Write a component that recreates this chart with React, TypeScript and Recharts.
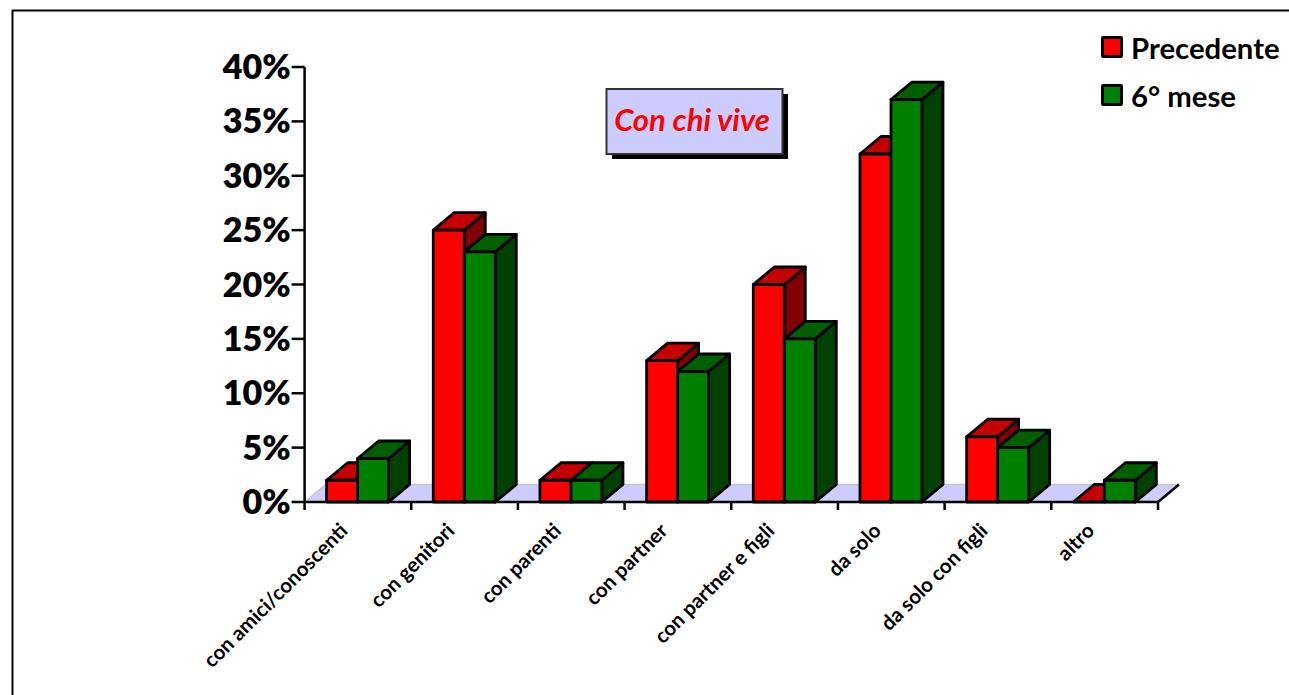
import React from "react";
import { BarChart, Bar, XAxis, YAxis, Legend, usePlotArea } from "recharts";

const categories = [
  "con amici/conoscenti",
  "con genitori",
  "con parenti",
  "con partner",
  "con partner e figli",
  "da solo",
  "da solo con figli",
  "altro",
];
const precedente = [2, 25, 2, 13, 20, 32, 6, 0];
const sestoMese = [4, 23, 2, 12, 15, 37, 5, 2];
const yTicks = [0, 5, 10, 15, 20, 25, 30, 35, 40];

const rows = categories.map((name, i) => ({
  name,
  Precedente: precedente[i],
  "6° mese": sestoMese[i],
}));

const FONT = "Lato, Carlito, 'Open Sans', sans-serif";
const DEPTH_X = 21;
const DEPTH_Y = 17.5;
const BAND = 854 / categories.length;

const redFaces = { front: "#ff0000", top: "#c40000", side: "#800000" };
const greenFaces = { front: "#008000", top: "#006000", side: "#004000" };

function Box3D(props: any) {
  const { x, y, width, height, faces } = props;
  const x2 = x + width;
  const bottom = y + height;
  const common = { stroke: "#000", strokeWidth: 2.8, strokeLinejoin: "round" as const };
  return (
    <g>
      <polygon
        points={`${x2},${y} ${x2 + DEPTH_X},${y - DEPTH_Y} ${x2 + DEPTH_X},${bottom - DEPTH_Y} ${x2},${bottom}`}
        fill={faces.side}
        {...common}
      />
      <polygon
        points={`${x},${y} ${x + DEPTH_X},${y - DEPTH_Y} ${x2 + DEPTH_X},${y - DEPTH_Y} ${x2},${y}`}
        fill={faces.top}
        {...common}
      />
      <rect x={x} y={y} width={width} height={height} fill={faces.front} {...common} />
    </g>
  );
}

// Chart floor: a receding plane behind the bars, with its right edge outlined.
function Floor() {
  const area = usePlotArea();
  if (!area) return null;
  const left = area.x;
  const right = area.x + area.width;
  const base = area.y + area.height;
  return (
    <g>
      <polygon
        points={`${left},${base} ${left + DEPTH_X},${base - DEPTH_Y} ${right + DEPTH_X},${base - DEPTH_Y} ${right},${base}`}
        fill="#ccccff"
      />
      <polyline
        points={`${left},${base} ${left + DEPTH_X},${base - DEPTH_Y} ${right + DEPTH_X},${base - DEPTH_Y}`}
        fill="none"
        stroke="#c8c8c8"
        strokeWidth={1.5}
      />
      <line x1={right} y1={base} x2={right + DEPTH_X} y2={base - DEPTH_Y} stroke="#000" strokeWidth={2.5} />
    </g>
  );
}

function Frame() {
  return (
    <g stroke="#000" strokeWidth={2}>
      <line x1={12} y1={10.5} x2={1289} y2={10.5} />
      <line x1={12.5} y1={10} x2={12.5} y2={695} />
    </g>
  );
}

function TitleBox() {
  return (
    <g>
      <rect x={612} y={94} width={176} height={65} fill="#000" />
      <rect x={606.5} y={89} width={176} height={65} fill="#ccccff" stroke="#333" strokeWidth={2} />
      <text
        x={692}
        y={131}
        textAnchor="middle"
        fontFamily={FONT}
        fontSize={31}
        fontWeight={700}
        fontStyle="italic"
        fill="#ff0000"
      >
        Con chi vive
      </text>
    </g>
  );
}

// Tick marks sit on category boundaries, so each tick draws its own mark and label.
function CategoryTick(props: any) {
  const { x, y, payload, index } = props;
  const edge = x - BAND / 2;
  const labelX = x - 9;
  const labelY = y + 22;
  return (
    <g>
      <line x1={edge} y1={y - 8} x2={edge} y2={y} stroke="#000" strokeWidth={2.5} />
      {index === categories.length - 1 && (
        <line x1={x + BAND / 2} y1={y - 8} x2={x + BAND / 2} y2={y} stroke="#000" strokeWidth={2.5} />
      )}
      <text
        x={labelX}
        y={labelY}
        textAnchor="end"
        transform={`rotate(-45 ${labelX} ${labelY})`}
        fontFamily={FONT}
        fontSize={20.5}
        fontWeight={700}
        fill="#000"
      >
        {payload.value}
      </text>
    </g>
  );
}

function LegendBlock({ payload }: any) {
  return (
    <div style={{ width: 188, fontFamily: FONT, fontWeight: 700, fontSize: 29.3, color: "#000", whiteSpace: "nowrap" }}>
      {(payload || []).map((entry: any) => (
        <div key={entry.value} style={{ display: "flex", alignItems: "center", height: 48 }}>
          <span
            style={{
              flex: "0 0 auto",
              boxSizing: "border-box",
              width: 22,
              height: 22,
              background: entry.color,
              border: "3px solid #000",
              borderRadius: 2,
              marginRight: 8,
              display: "inline-block",
            }}
          />
          <span>{entry.value}</span>
        </div>
      ))}
    </div>
  );
}

export default function App() {
  return (
    <div style={{ position: "absolute", left: 0, top: 0, width: 1289, height: 695, background: "#fff" }}>
      <BarChart
        width={1289}
        height={695}
        data={rows}
        margin={{ top: 67, right: 131, bottom: 93, left: 0 }}
        barSize={31}
        barGap={0}
      >
        <Frame />
        <Floor />
        <XAxis
          dataKey="name"
          interval={0}
          height={100}
          axisLine={{ stroke: "#000", strokeWidth: 2.5 }}
          tickLine={false}
          tick={<CategoryTick />}
          tickMargin={0}
          tickSize={8}
        />
        <YAxis
          width={304.6}
          domain={[0, 40]}
          ticks={yTicks}
          interval={0}
          axisLine={{ stroke: "#000", strokeWidth: 2.5 }}
          tickLine={{ stroke: "#000", strokeWidth: 2.5 }}
          tickSize={13}
          tickMargin={1}
          tickFormatter={(v: number) => `${v}%`}
          tick={{ fontFamily: FONT, fontSize: 34, fontWeight: 800, fill: "#000" }}
        />
        <Legend
          layout="vertical"
          align="right"
          verticalAlign="top"
          itemSorter={null}
          content={<LegendBlock />}
          wrapperStyle={{ left: 1101, top: 23, width: 0, overflow: "visible" }}
        />
        <Bar dataKey="Precedente" fill="#ff0000" isAnimationActive={false} shape={<Box3D faces={redFaces} />} />
        <Bar dataKey="6° mese" fill="#008000" isAnimationActive={false} shape={<Box3D faces={greenFaces} />} />
        <TitleBox />
      </BarChart>
    </div>
  );
}
